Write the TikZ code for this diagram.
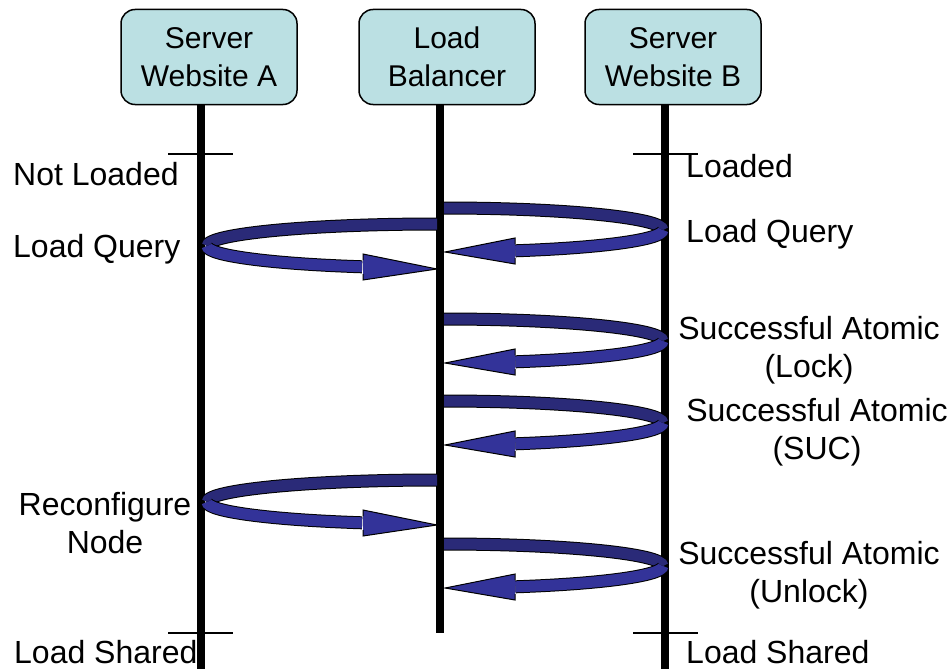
\documentclass[tikz,border=0pt]{standalone}
\usepackage{fontspec}
\setmainfont{Liberation Sans}
\usetikzlibrary{positioning}

\definecolor{boxfill}{HTML}{BBE0E3}
\definecolor{bandback}{HTML}{2A2A78}
\definecolor{bandfront}{HTML}{333399}

\newcommand{\boxtext}{\fontsize{30}{38}\selectfont}
\newcommand{\bigtext}{\fontsize{32}{38}\selectfont}

\tikzset{
  actor/.style={draw=black, line width=1.5pt, rounded corners=14pt, fill=boxfill,
    minimum width=176pt, minimum height=95pt, align=center, font=\boxtext},
  lifeline/.style={line width=8pt},
  tickmark/.style={line width=1.5pt},
  msg/.style={font=\bigtext, align=center, inner sep=0pt},
  bandtop/.style={double=bandback, double distance=11pt, line width=1pt},
  bandbot/.style={double=bandfront, double distance=11pt, line width=1pt},
  head/.style={fill=bandfront, draw=black, line width=1pt, line join=miter},
}

% balancer -> server B -> balancer, #1 = top of the band
\newcommand{\swirlB}[1]{%
  \draw[bandtop] (444,#1) arc[start angle=90, end angle=0, x radius=219pt, y radius=22pt];
  \draw[bandbot] (663,#1+22) arc[start angle=0, end angle=-71, x radius=219pt, y radius=22pt];
  \filldraw[head] (515,#1+36) -- (515,#1+30) -- (445,#1+44) -- (515,#1+56) -- (515,#1+50);
}
% balancer -> server A -> balancer
\newcommand{\swirlA}[1]{%
  \draw[bandtop] (437,#1) arc[start angle=90, end angle=180, x radius=230pt, y radius=22pt];
  \draw[bandbot] (207,#1+22) arc[start angle=180, end angle=251, x radius=230pt, y radius=22pt];
  \filldraw[head] (363,#1+36) -- (363,#1+30) -- (437,#1+45) -- (363,#1+56) -- (363,#1+50);
}

\begin{document}
\begin{tikzpicture}[x=1pt, y=-1pt]
\useasboundingbox (0,0) rectangle (952,669);

% the three parties
\node[actor] (srvA) at (209,57) {Server\\Website A};
\node[actor] (bal) at (447,57) {Load\\Balancer};
\node[actor] (srvB) at (673,57) {Server\\Website B};

% lifelines
\coordinate (endA) at (201,669);
\coordinate (endL) at (440,633);
\coordinate (endB) at (665,669);
\draw[lifeline] (srvA.south -| endA) -- (endA);
\draw[lifeline] (bal.south -| endL) -- (endL);
\draw[lifeline] (srvB.south -| endB) -- (endB);

% state marks
\draw[tickmark] (168,154) -- (233,154);
\draw[tickmark] (633,154) -- (698,154);
\draw[tickmark] (168,633) -- (233,633);
\draw[tickmark] (633,633) -- (698,633);

% messages
\swirlB{208}
\swirlA{224}
\swirlB{319}
\swirlB{401}
\swirlA{480}
\swirlB{544}

% texts
\node[msg, anchor=base west] (notld) at (13,185) {Not Loaded};
\node[msg, anchor=base west] (qryA) at (13,257) {Load Query};
\node[msg, anchor=base west] (ld) at (686,177) {Loaded};
\node[msg, anchor=base west] (qryB) at (686,242) {Load Query};
\node[msg, anchor=north] (lock) at (809,316) {Successful Atomic\\(Lock)};
\node[msg, anchor=north] (suc) at (817,398) {Successful Atomic\\(SUC)};
\node[msg, anchor=north] (recfg) at (105,492) {Reconfigure\\Node};
\node[msg, anchor=north] (unlock) at (809,541) {Successful Atomic\\(Unlock)};
\node[msg, anchor=base west] (shA) at (14,663) {Load Shared};
\node[msg, anchor=base west] (shB) at (686,663) {Load Shared};
\end{tikzpicture}
\end{document}
